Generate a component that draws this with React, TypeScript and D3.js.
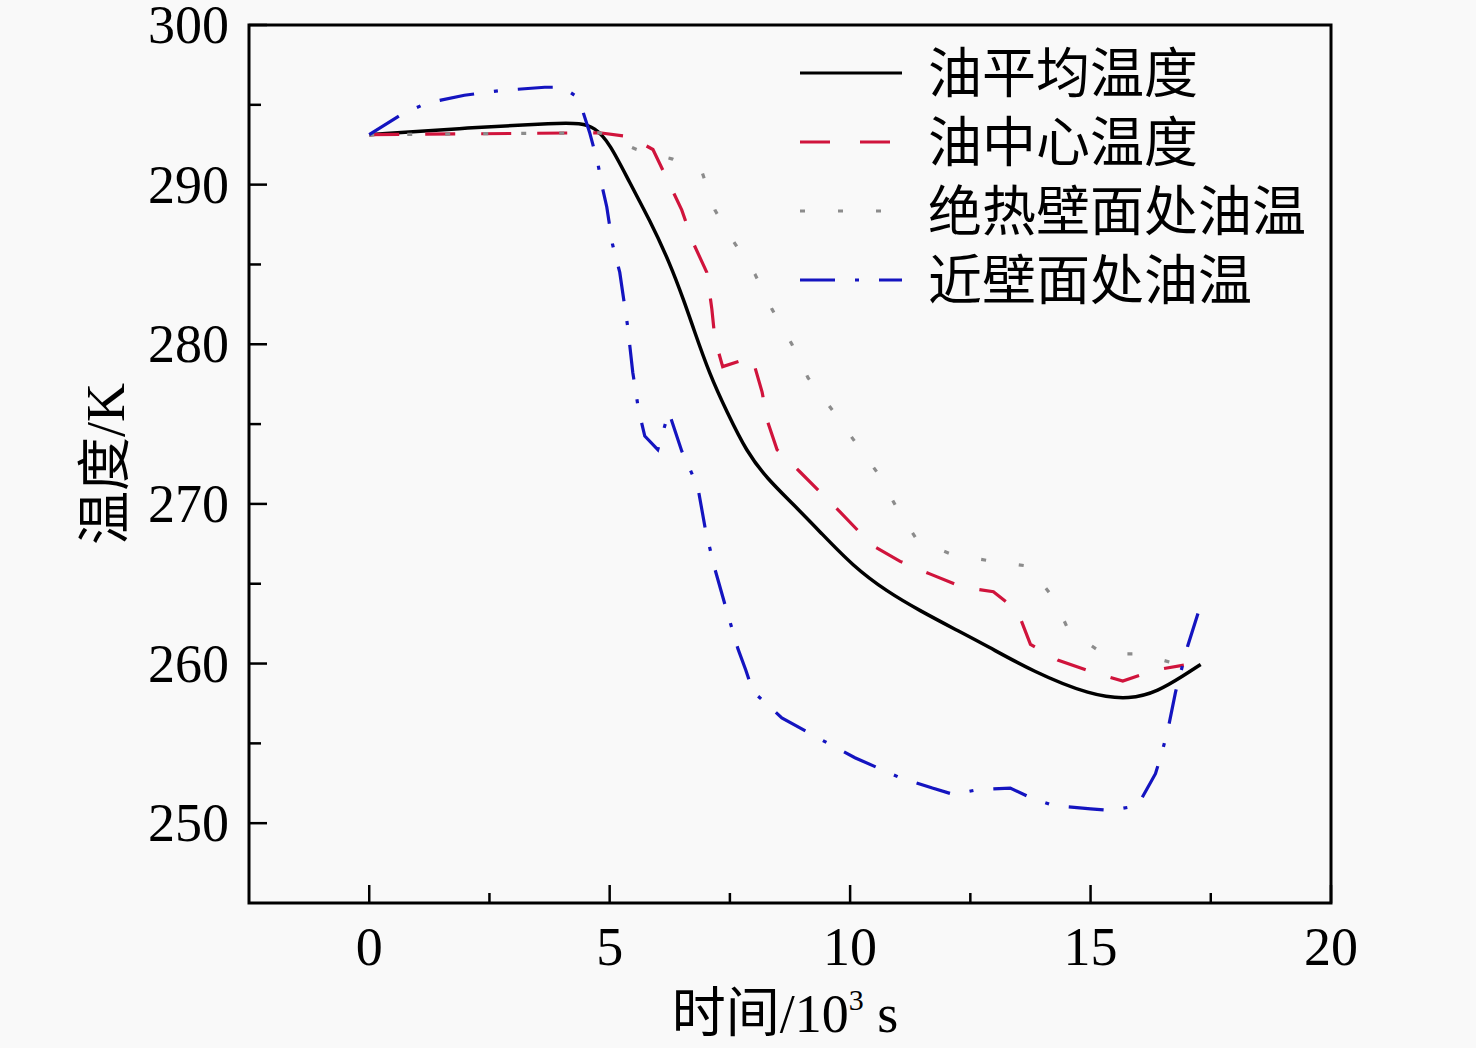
import React from "react";
import * as d3 from "d3";

// time in 10^3 s, temperature in K
const avgTime = [0, 2.08, 3.96, 4.375, 4.69, 5.0, 5.42, 5.83, 6.25, 6.56, 6.73, 7.08, 7.44, 7.85, 8.27, 8.81, 9.375, 10.06, 10.77, 11.46, 12.15, 12.85, 13.8, 15.0, 15.83, 16.4, 16.94, 17.29];
const avgTemp = [293.13, 293.56, 293.88, 293.85, 293.6, 292.6, 290.1, 287.8, 285.1, 282.6, 281.1, 278.1, 275.75, 273.25, 271.6, 270.0, 268.25, 266.1, 264.5, 263.3, 262.2, 261.1, 259.5, 258.0, 257.75, 258.25, 259.25, 259.94];

const centerTime = [0, 4.79, 5.42, 5.9, 6.25, 6.5, 6.73, 7.02, 7.125, 7.19, 7.35, 7.96, 8.17, 8.29, 8.48, 8.96, 9.79, 10.46, 11.04, 11.67, 12.33, 12.98, 13.48, 13.75, 14.33, 15.0, 15.67, 16.35, 16.94];
const centerTemp = [293.13, 293.25, 293.0, 292.2, 290.0, 288.4, 286.4, 284.5, 282.2, 280.3, 278.6, 279.2, 277.0, 275.1, 273.4, 272.0, 269.5, 267.4, 266.4, 265.6, 264.8, 264.5, 263.3, 261.2, 260.2, 259.5, 258.9, 259.6, 259.9];

const adiabaticTime = [0, 4.79, 5.56, 6.31, 6.92, 7.19, 7.54, 8.02, 8.375, 8.79, 9.125, 9.625, 10.1, 10.58, 10.98, 11.4, 12.15, 12.98, 13.71, 14.23, 14.54, 15.27, 16.04, 16.875];
const adiabaticTemp = [293.13, 293.25, 292.2, 291.6, 290.8, 288.4, 286.6, 284.4, 282.2, 280.0, 277.9, 275.9, 273.9, 271.9, 269.7, 267.7, 266.8, 266.4, 266.1, 264.1, 262.1, 260.6, 260.6, 259.9];

const wallTime = [0, 0.67, 1.19, 1.98, 2.75, 3.65, 4.02, 4.27, 4.42, 4.58, 4.75, 4.85, 4.94, 5.06, 5.21, 5.375, 5.48, 5.6, 5.73, 6.0, 6.23, 6.5, 6.83, 7.0, 7.19, 7.44, 7.67, 7.83, 7.98, 8.58, 9.42, 10.1, 11.0, 11.71, 12.15, 12.65, 13.33, 13.75, 14.23, 15.0, 15.42, 15.98, 16.35, 16.5, 16.625, 16.77, 17.02, 17.25];
const wallTemp = [293.13, 294.4, 295.1, 295.6, 295.9, 296.1, 296.1, 295.6, 294.8, 293.3, 291.4, 289.8, 288.6, 286.25, 284.5, 281.1, 278.25, 275.9, 274.25, 273.4, 275.75, 273.3, 271.1, 268.25, 265.9, 263.25, 260.9, 259.6, 258.25, 256.6, 255.2, 254.1, 252.9, 252.2, 251.8, 252.1, 252.2, 251.6, 251.1, 250.9, 250.8, 251.1, 253.1, 254.6, 256.1, 258.25, 261.1, 263.3];

const seriesNames = ["油平均温度", "油中心温度", "绝热壁面处油温", "近壁面处油温"];
const xMajorTicks = [0, 5, 10, 15, 20];
const xMinorTicks = [2.5, 7.5, 12.5, 17.5];
const yMajorTicks = [250, 260, 270, 280, 290, 300];
const yMinorTicks = [255, 265, 275, 285, 295];

const W = 1476;
const H = 1048;
const margin = { left: 249, right: 145, top: 25, bottom: 145 };
const serif = "'Liberation Serif', 'Times New Roman', 'Noto Sans CJK SC', serif";

const styles = [
  { color: "#000000", dash: "", legendDash: "", curve: d3.curveBasis },
  { color: "#d0143c", dash: "30,26", legendDash: "30,30", curve: d3.curveLinear },
  { color: "#8c8c8c", dash: "5,33", legendDash: "5,33", curve: d3.curveLinear },
  { color: "#1414c0", dash: "35,20,4,20", legendDash: "35,20,4,20", curve: d3.curveLinear },
];

export default function App() {
  const x = d3.scaleLinear().domain([-2.5, 20]).range([margin.left, W - margin.right]);
  const y = d3.scaleLinear().domain([245, 300]).range([H - margin.bottom, margin.top]);

  const series = [
    d3.zip(avgTime, avgTemp),
    d3.zip(centerTime, centerTemp),
    d3.zip(adiabaticTime, adiabaticTemp),
    d3.zip(wallTime, wallTemp),
  ];

  const x0 = x.range()[0];
  const x1 = x.range()[1];
  const y0 = y.range()[0];
  const y1 = y.range()[1];

  return (
    <div style={{ position: "absolute", left: 0, top: 0 }}>
      <svg width={W} height={H} style={{ display: "block" }}>
        <rect width={W} height={H} fill="#f9f9f9" />

        {series.map((pts, i) => {
          const line = d3
            .line<number[]>()
            .x((d) => x(d[0]))
            .y((d) => y(d[1]))
            .curve(styles[i].curve);
          return (
            <path
              key={i}
              d={line(pts) || ""}
              fill="none"
              stroke={styles[i].color}
              strokeWidth={i === 0 ? 3.5 : 3.2}
              strokeDasharray={styles[i].dash || undefined}
            />
          );
        })}

        {/* frame */}
        <rect x={x0} y={y1} width={x1 - x0} height={y0 - y1} fill="none" stroke="#000" strokeWidth={3} />

        {/* x ticks */}
        {xMajorTicks.map((t) => (
          <g key={"xm" + t}>
            <line x1={x(t)} x2={x(t)} y1={y0} y2={y0 - 18} stroke="#000" strokeWidth={2.5} />
            <text x={x(t)} y={y0 + 62} textAnchor="middle" fontFamily={serif} fontSize={54}>
              {t}
            </text>
          </g>
        ))}
        {xMinorTicks.map((t) => (
          <line key={"xn" + t} x1={x(t)} x2={x(t)} y1={y0} y2={y0 - 10} stroke="#000" strokeWidth={2.5} />
        ))}

        {/* y ticks */}
        {yMajorTicks.map((t) => (
          <g key={"ym" + t}>
            <line x1={x0} x2={x0 + 18} y1={y(t)} y2={y(t)} stroke="#000" strokeWidth={2.5} />
            <text x={x0 - 20} y={y(t) + 18} textAnchor="end" fontFamily={serif} fontSize={54}>
              {t}
            </text>
          </g>
        ))}
        {yMinorTicks.map((t) => (
          <line key={"yn" + t} x1={x0} x2={x0 + 12} y1={y(t)} y2={y(t)} stroke="#000" strokeWidth={2.5} />
        ))}

        {/* axis titles */}
        <text x={785} y={1032} textAnchor="middle" fontFamily={serif} fontSize={54}>
          时间/10
          <tspan fontSize={30} dy={-22}>3</tspan>
          <tspan dy={22}> s</tspan>
        </text>
        <text
          transform={`translate(124, ${(y0 + y1) / 2}) rotate(-90)`}
          textAnchor="middle"
          fontFamily={serif}
          fontSize={54}
        >
          温度/K
        </text>

        {/* legend */}
        {seriesNames.map((name, i) => {
          const ly = 73 + i * 69;
          return (
            <g key={name}>
              <line
                x1={800}
                x2={902}
                y1={ly}
                y2={ly}
                stroke={styles[i].color}
                strokeWidth={3.2}
                strokeDasharray={styles[i].legendDash || undefined}
              />
              <text x={928} y={ly + 20} fontFamily={serif} fontSize={54}>
                {name}
              </text>
            </g>
          );
        })}
      </svg>
    </div>
  );
}
